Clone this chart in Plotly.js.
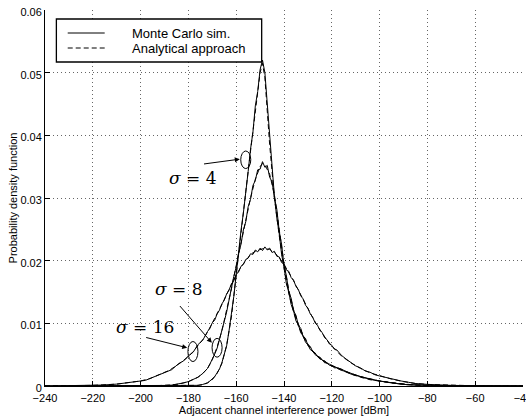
<!DOCTYPE html>
<html>
<head>
<meta charset="utf-8">
<script src="https://cdn.plot.ly/plotly-3.0.1.min.js"></script>
<style>html,body{margin:0;padding:0;background:#fff;}#chart{width:526px;height:419px;}</style>
</head>
<body>
<div id="chart"></div>
<script>
// ---- Data ----
// x grid for the analytical (dashed) curves [dBm]
var anX = [-240,-230,-220,-210,-205,-200,-196,-192,-188,-184,-180,-178,-176,-174,-172,-170,-168,-166,-164,-162,-160,-158,-156,-154,-152,-150,-149,-148,-146,-144,-142,-140,-138,-136,-134,-132,-130,-128,-126,-124,-122,-120,-116,-112,-108,-104,-100,-95,-90,-85,-80,-70,-60,-50,-40];
var anSigma4 = [0,0,0,0,0,0,0,0,0,0,0.00002,0.00005,0.0001,0.0002,0.0005,0.001,0.002,0.0036,0.0065,0.011,0.018,0.0245,0.031,0.0375,0.0442,0.0500,0.0515,0.0492,0.0385,0.0300,0.0240,0.0188,0.0148,0.0118,0.0096,0.0079,0.0065,0.0055,0.0047,0.0041,0.0036,0.0032,0.0025,0.0019,0.0014,0.0010,0.0008,0.0005,0.0003,0.00015,0.00007,0.00002,0,0,0];
var anSigma8 = [0,0,0,0,0,0.00002,0.00004,0.00008,0.00015,0.0003,0.0007,0.001,0.0014,0.002,0.0028,0.0042,0.0062,0.0088,0.012,0.0155,0.0192,0.0228,0.0265,0.0300,0.0330,0.0350,0.0355,0.0353,0.0338,0.0305,0.0250,0.0195,0.0153,0.0122,0.0099,0.0081,0.0067,0.0056,0.0048,0.0042,0.0037,0.0033,0.0026,0.0020,0.0015,0.0011,0.0008,0.0005,0.0003,0.00016,0.00008,0.00002,0,0,0];
var anSigma16 = [0,0.00003,0.0001,0.0003,0.0005,0.0008,0.0012,0.0018,0.0025,0.0035,0.0047,0.0055,0.0064,0.0074,0.0086,0.0100,0.0114,0.0130,0.0146,0.0162,0.0177,0.0190,0.0201,0.0210,0.0215,0.0218,0.0219,0.0219,0.0218,0.0213,0.0205,0.0194,0.0182,0.0168,0.0153,0.0138,0.0123,0.0109,0.0096,0.0084,0.0073,0.0064,0.0048,0.0037,0.0028,0.0021,0.0016,0.0011,0.0007,0.0004,0.00025,0.0001,0.00004,0.00001,0];

// x grid for the Monte Carlo (solid, noisy) curves [dBm]
var mcX = [-240,-230,-222,-216,-210,-206,-202,-198,-194,-190,-187,-184,-182,-180,-178,-176,-174,
  -172,-171,-170,-169,-168,-167,-166,-165,-164,-163,-162,-161,-160,-159,-158,-157,-156,-155,-154,-153,-152,-151,-150,-149,-148,-147,-146,-145,-144,-143,-142,-141,-140,-139,-138,-137,-136,-135,-134,-133,-132,-131,-130,-129,-128,-127,-126,-125,-124,-123,-122,-121,-120,-119,-118,
  -116,-114,-112,-110,-108,-106,-104,-102,-100,-97,-94,-91,-88,-85,-80,-75,-70,-60,-50,-40];
var mcSigma4 = [0,0,0,0,0,0,0,0,0,0,0,0.00001,0.00002,0.00003,0.00006,0.0001,0.00025,
  0.0005,0.0008,0.0011,0.0015,0.0021,0.0027,0.0037,0.0049,0.0064,0.0088,0.0112,0.0143,0.0178,0.0215,0.0248,0.0276,0.0315,0.0342,0.0378,0.0405,0.0447,0.0470,0.0505,0.0520,0.0500,0.0452,0.0390,0.0345,0.0302,0.0268,0.0243,0.0210,0.0190,0.0163,0.0150,0.0130,0.0120,0.0104,0.0098,0.0085,0.0080,0.0070,0.0066,0.0058,0.0056,0.0050,0.0048,0.0043,0.0042,0.0037,0.0037,0.0033,0.0033,0.0029,0.0029,
  0.0025,0.0023,0.0019,0.0017,0.0014,0.0012,0.0010,0.0009,0.0008,0.0006,0.0004,0.0003,0.0002,0.00015,0.00007,0.00004,0.00002,0.00001,0,0];
var mcSigma8 = [0,0,0,0,0,0.00001,0.00002,0.00003,0.00005,0.00009,0.00014,0.0003,0.0005,0.0007,0.0010,0.0014,0.0020,
  0.0028,0.0035,0.0042,0.0051,0.0060,0.0076,0.0088,0.0103,0.0118,0.0139,0.0154,0.0175,0.0190,0.0212,0.0226,0.0249,0.0262,0.0286,0.0298,0.0320,0.0328,0.0345,0.0346,0.0358,0.0349,0.0352,0.0333,0.0326,0.0300,0.0282,0.0247,0.0226,0.0192,0.0176,0.0150,0.0140,0.0120,0.0113,0.0097,0.0092,0.0079,0.0076,0.0065,0.0063,0.0055,0.0053,0.0047,0.0046,0.0041,0.0040,0.0036,0.0035,0.0032,0.0031,0.0029,
  0.0027,0.0023,0.0020,0.0018,0.0015,0.0013,0.0011,0.0010,0.0008,0.0006,0.0004,0.0003,0.0002,0.00016,0.00008,0.00004,0.00002,0.00001,0,0];
var mcSigma16 = [0,0.00003,0.0001,0.00015,0.0003,0.00045,0.0007,0.0009,0.0015,0.0021,0.0026,0.0036,0.0040,0.0048,0.0054,0.0066,0.0073,
  0.0087,0.0092,0.0101,0.0105,0.0115,0.0121,0.0131,0.0137,0.0147,0.0153,0.0163,0.0168,0.0178,0.0182,0.0191,0.0194,0.0202,0.0204,0.0211,0.0210,0.0217,0.0214,0.0220,0.0216,0.0222,0.0217,0.0220,0.0213,0.0215,0.0207,0.0206,0.0197,0.0195,0.0185,0.0183,0.0173,0.0169,0.0159,0.0154,0.0144,0.0139,0.0129,0.0124,0.0115,0.0110,0.0101,0.0097,0.0089,0.0085,0.0077,0.0074,0.0067,0.0065,0.0059,0.0058,
  0.0049,0.0043,0.0038,0.0032,0.0029,0.0024,0.0022,0.0018,0.0016,0.0013,0.0010,0.0008,0.0006,0.0004,0.00026,0.00016,0.0001,0.00004,0.00001,0];

var seriesNames = ['Monte Carlo sim.', 'Analytical approach'];
var sigmaLabels = ['4', '8', '16'];
var xTicks = [-240,-220,-200,-180,-160,-140,-120,-100,-80,-60,-40];
var yTicks = [0,0.01,0.02,0.03,0.04,0.05,0.06];

// ---- Traces ----
var FONT = 'Liberation Sans, Arial, Helvetica, sans-serif';
function an(y){ return {x: anX, y: y, type: 'scatter', mode: 'lines', line: {color: '#000', width: 1, dash: '5px,3px'}, showlegend: false, hoverinfo: 'skip'}; }
function mc(y){ return {x: mcX, y: y, type: 'scatter', mode: 'lines', line: {color: '#000', width: 1}, showlegend: false, hoverinfo: 'skip'}; }
var data = [an(anSigma4), an(anSigma8), an(anSigma16), mc(mcSigma4), mc(mcSigma8), mc(mcSigma16)];

// ---- Annotations / shapes ----
var serif = 'DejaVu Serif, Liberation Serif, serif';
var sFont = {family: serif, size: 17, color: '#000'};
var annotations = [
  {x: -178.3, y: 0.0332, xref: 'x', yref: 'y', text: '<i>σ</i> = ' + sigmaLabels[0], showarrow: false, font: sFont},
  {x: -184.1, y: 0.0155, xref: 'x', yref: 'y', text: '<i>σ</i> = ' + sigmaLabels[1], showarrow: false, font: sFont},
  {x: -198.3, y: 0.0094, xref: 'x', yref: 'y', text: '<i>σ</i> = ' + sigmaLabels[2], showarrow: false, font: sFont},
  // arrows
  {x: -158.5, y: 0.0362, ax: -174.1, ay: 0.0354, xref: 'x', yref: 'y', axref: 'x', ayref: 'y', text: '', showarrow: true, arrowhead: 2, arrowsize: 1, arrowwidth: 1, arrowcolor: '#000', standoff: 0},
  {x: -170.2, y: 0.0069, ax: -184.1, ay: 0.0130, xref: 'x', yref: 'y', axref: 'x', ayref: 'y', text: '', showarrow: true, arrowhead: 2, arrowsize: 1, arrowwidth: 1, arrowcolor: '#000', standoff: 0},
  {x: -180.5, y: 0.0061, ax: -198.3, ay: 0.0078, xref: 'x', yref: 'y', axref: 'x', ayref: 'y', text: '', showarrow: true, arrowhead: 2, arrowsize: 1, arrowwidth: 1, arrowcolor: '#000', standoff: 0},
  // legend texts
  {x: 0.1774, y: 0.9388, xref: 'paper', yref: 'paper', xanchor: 'left', yanchor: 'middle', text: seriesNames[0], showarrow: false, font: {family: FONT, size: 13, color: '#000'}},
  {x: 0.1774, y: 0.8989, xref: 'paper', yref: 'paper', xanchor: 'left', yanchor: 'middle', text: seriesNames[1], showarrow: false, font: {family: FONT, size: 13, color: '#000'}}
];
var shapes = [
  {type: 'circle', xref: 'x', yref: 'y', x0: -158.1, x1: -153.9, y0: 0.0347, y1: 0.0375, line: {color: '#000', width: 1}},
  {type: 'circle', xref: 'x', yref: 'y', x0: -170.1, x1: -165.9, y0: 0.0046, y1: 0.0076, line: {color: '#000', width: 1}},
  {type: 'circle', xref: 'x', yref: 'y', x0: -180.2, x1: -176.0, y0: 0.0039, y1: 0.0071, line: {color: '#000', width: 1}},
  // legend box & samples
  {type: 'rect', xref: 'paper', yref: 'paper', x0: 0.0238, x1: 0.4533, y0: 0.8617, y1: 0.976, line: {color: '#000', width: 1.3}, fillcolor: '#fff', layer: 'above'},
  {type: 'line', xref: 'paper', yref: 'paper', x0: 0.0475, x1: 0.1249, y0: 0.9388, y1: 0.9388, line: {color: '#000', width: 1}},
  {type: 'line', xref: 'paper', yref: 'paper', x0: 0.0475, x1: 0.1249, y0: 0.8989, y1: 0.8989, line: {color: '#000', width: 1, dash: '5px,3px'}}
];

var layout = {
  width: 526, height: 419,
  margin: {l: 45, r: 3, t: 10, b: 33, pad: 0},
  paper_bgcolor: '#fff', plot_bgcolor: '#fff',
  font: {family: FONT, size: 11, color: '#000'},
  showlegend: false,
  xaxis: {
    range: [-240, -40], tickvals: xTicks, ticks: 'inside', ticklen: 5, tickcolor: '#000',
    showline: true, linecolor: '#000', linewidth: 1, mirror: false,
    showgrid: true, gridcolor: '#666', gridwidth: 1, griddash: '1px,3px', zeroline: false,
    tickfont: {family: FONT, size: 11, color: '#000'}, ticklabelstandoff: 2, ticklabeloverflow: 'allow',
    title: {text: 'Adjacent channel interference power [dBm]', font: {family: FONT, size: 11, color: '#000'}, standoff: 0},
    automargin: false
  },
  yaxis: {
    range: [0, 0.06], tickvals: yTicks, ticks: 'inside', ticklen: 5, tickcolor: '#000',
    showline: true, linecolor: '#000', linewidth: 1, mirror: false,
    showgrid: true, gridcolor: '#666', gridwidth: 1, griddash: '1px,3px', zeroline: false,
    tickfont: {family: FONT, size: 11, color: '#000'}, ticklabelshift: 2,
    title: {text: 'Probability density function', font: {family: FONT, size: 11, color: '#000'}, standoff: 0},
    automargin: false
  },
  annotations: annotations,
  shapes: shapes
};

Plotly.newPlot('chart', data, layout, {displayModeBar: false, staticPlot: true});
</script>
</body>
</html>
